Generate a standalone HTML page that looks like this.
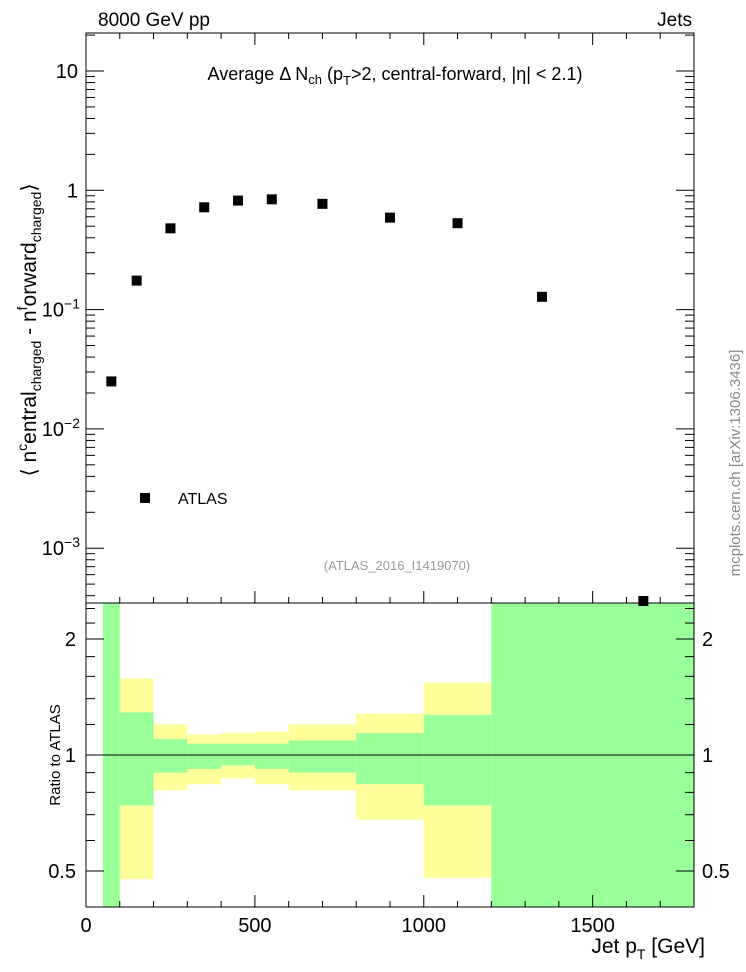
<!DOCTYPE html>
<html><head><meta charset="utf-8"><style>
body{margin:0;background:#fff}
svg{display:block;font-family:"Liberation Sans",sans-serif}
</style></head><body>
<svg id="c" width="746" height="972" viewBox="0 0 746 972" xmlns="http://www.w3.org/2000/svg">
<g id="bands"></g>
<g id="axes"></g>
<g id="pts"></g>
<text x="98" y="26" font-size="19">8000 GeV pp</text>
<text x="692" y="26" font-size="19" text-anchor="end">Jets</text>
<text x="395" y="80" font-size="18" text-anchor="middle">Average Δ N<tspan font-size="13" dy="4">ch</tspan><tspan dy="-4"> (p</tspan><tspan font-size="13" dy="5">T</tspan><tspan dy="-5">&gt;2, central-forward, |η| &lt; 2.1)</tspan></text>
<text x="397" y="570" font-size="13" fill="#999" text-anchor="middle">(ATLAS_2016_I1419070)</text>
<rect x="140" y="493" width="10" height="10" fill="#000"/>
<text x="178" y="504" font-size="16">ATLAS</text>
<text transform="translate(36,330) rotate(-90)" font-size="21" text-anchor="middle">⟨ n<tspan font-size="14" dy="-9">c</tspan><tspan dy="9">entral</tspan><tspan font-size="14" dy="5">charged</tspan><tspan dy="-5"> - n</tspan><tspan font-size="14" dy="-9">f</tspan><tspan dy="9">orward</tspan><tspan font-size="14" dy="5">charged</tspan><tspan dy="-5">⟩</tspan></text>
<text transform="translate(60,755) rotate(-90)" font-size="15" text-anchor="middle">Ratio to ATLAS</text>
<text transform="translate(740,463) rotate(-90)" font-size="15" fill="#888" text-anchor="middle">mcplots.cern.ch [arXiv:1306.3436]</text>
<text x="705" y="953" font-size="21" text-anchor="end">Jet p<tspan font-size="14" dy="6">T</tspan><tspan dy="-6"> [GeV]</tspan></text>
</svg>
<script>
const NS='http://www.w3.org/2000/svg';
const xs=[75,150,250,350,450,550,700,900,1100,1350,1650];
const ys=[0.025,0.175,0.48,0.72,0.82,0.84,0.77,0.59,0.53,0.128,0.0003];
const edges=[50,100,200,300,400,500,600,800,1000,1200,1800];
const greenUp=[10,1.29,1.10,1.07,1.07,1.07,1.09,1.14,1.27,10];
const greenDn=[0.1,0.74,0.90,0.92,0.94,0.92,0.90,0.84,0.74,0.1];
const yellowUp=[10,1.58,1.20,1.13,1.14,1.15,1.20,1.28,1.54,10];
const yellowDn=[0.1,0.476,0.81,0.84,0.87,0.84,0.81,0.68,0.48,0.1];
const xTicks=[0,500,1000,1500];
const mainTicks=[10,1,0.1,0.01,0.001];
const mainLabels=['10','1','10^-1','10^-2','10^-3'];
const ratioTicks=[0.5,1,2];
const ratioLabels=['0.5','1','2'];
const L=86,R=694,T=33,MB=603,RB=907;
const XMAX=1800;
const X=v=>L+v*(R-L)/XMAX;
const Y=v=>71-(Math.log10(v)-1)*119.3;
const RY=v=>755-Math.log2(v)*116;
const clipY=(y,a,b)=>Math.max(a,Math.min(b,y));
function mk(tag,attrs,parent){const e=document.createElementNS(NS,tag);for(const k in attrs)e.setAttribute(k,attrs[k]);parent.appendChild(e);return e;}
const bands=document.getElementById('bands'),axes=document.getElementById('axes'),pts=document.getElementById('pts');
for(let i=0;i<edges.length-1;i++){
  const x0=X(edges[i]),x1=X(edges[i+1]);
  const yu=clipY(RY(yellowUp[i]),MB,RB),yd=clipY(RY(yellowDn[i]),MB,RB);
  const r1=mk('rect',{x:x0,y:yu,width:x1-x0,height:yd-yu,fill:'#ffff99'},bands);
  
  
  const gu=clipY(RY(greenUp[i]),MB,RB),gd=clipY(RY(greenDn[i]),MB,RB);
  const r2=mk('rect',{x:x0,y:gu,width:x1-x0,height:gd-gu,fill:'#99ff99'},bands);
  
  
}
const ln=(x1,y1,x2,y2,w)=>mk('line',{x1,y1,x2,y2,stroke:'#000','stroke-width':w||1},axes);
mk('rect',{x:L,y:T,width:R-L,height:MB-T,fill:'none',stroke:'#000'},axes);
mk('rect',{x:L,y:MB,width:R-L,height:RB-MB,fill:'none',stroke:'#000'},axes);
ln(L,RY(1),R,RY(1));
for(let v=0;v<=1800;v+=100){
  const x=X(v),len=(v%500===0)?12:6;
  ln(x,T,x,T+len);ln(x,MB,x,MB-len);ln(x,RB,x,RB-len);
}
xTicks.forEach(v=>{const t=mk('text',{x:X(v),y:932,'font-size':20,'text-anchor':'middle'},axes);t.textContent=v;

});
for(let d=-4;d<=1;d++){for(let m=1;m<=9;m++){const v=m*Math.pow(10,d);const y=Y(v);if(y<T||y>MB)continue;const len=m===1?18:9;ln(L,y,L+len,y);ln(R,y,R-len,y);}}
mainTicks.forEach((v,i)=>{const y=Y(v);const lab=mainLabels[i];const t=mk('text',{x:78,y:y+7,'font-size':20,'text-anchor':'end'},axes);


if(lab.indexOf('^')>0){const p=lab.split('^');t.textContent=p[0];const s=mk('tspan',{'font-size':14,dy:-8},t);s.textContent=p[1].replace('-','−');t.setAttribute('x',80);}else t.textContent=lab;});
[0.5,0.6,0.7,0.8,0.9,1,1.2,1.4,1.6,1.8,2,2.2,2.4].forEach(v=>{const y=RY(v);const len=ratioTicks.indexOf(v)>=0?18:9;ln(L,y,L+len,y);ln(R,y,R-len,y);});
ratioTicks.forEach((v,i)=>{const y=RY(v)+7;
const t=mk('text',{x:76,y,'font-size':20,'text-anchor':'end'},axes);t.textContent=ratioLabels[i];


const t2=mk('text',{x:702,y,'font-size':20},axes);t2.textContent=ratioLabels[i];

});
xs.forEach((v,i)=>{const y=clipY(Y(ys[i]),T,MB-2);
const r=mk('rect',{x:X(v)-5,y:y-5,width:10,height:10,fill:'#000'},pts);

});
</script>
</body></html>
